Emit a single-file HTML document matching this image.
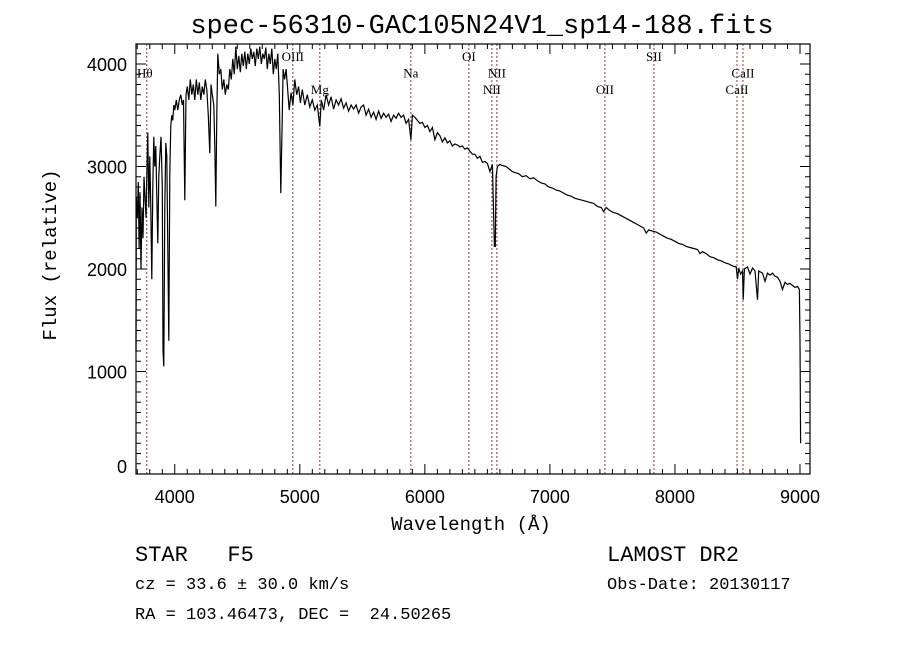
<!DOCTYPE html>
<html><head><meta charset="utf-8"><style>
body{margin:0;background:#fff;}
svg{display:block;}
text{white-space:pre;}
.mono{font-family:"Liberation Mono",monospace;}
.sans{font-family:"Liberation Sans",sans-serif;}
.ser{font-family:"Liberation Serif",serif;font-size:13px;}
</style></head><body>
<svg id="chart" width="900" height="649" viewBox="0 0 900 649" xml:space="preserve">
<rect width="900" height="649" fill="#fff"/>
<text x="482" y="33" text-anchor="middle" class="mono" font-size="27">spec-56310-GAC105N24V1_sp14-188.fits</text>
<g id="lines"></g>
<g id="ticks"></g>
<path id="spec" fill="none" stroke="#000" stroke-width="1.2"/>
<rect x="136" y="44" width="674" height="430" fill="none" stroke="#000" stroke-width="1.2"/>
<text x="471" y="530" text-anchor="middle" class="mono" font-size="19">Wavelength (Å)</text>
<text transform="translate(56,255) rotate(-90)" text-anchor="middle" class="mono" font-size="19">Flux (relative)</text>
<text x="135" y="561" class="mono" font-size="22">STAR   F5</text>
<text x="135" y="589" class="mono" font-size="17">cz = 33.6 ± 30.0 km/s</text>
<text x="135" y="619" class="mono" font-size="17">RA = 103.46473, DEC =  24.50265</text>
<text x="607" y="561" class="mono" font-size="22">LAMOST DR2</text>
<text x="607" y="589" class="mono" font-size="17">Obs-Date: 20130117</text>
</svg>
<script>
const wave=[3690,3692,3700,3708,3715,3722,3730,3738,3746,3754,3762,3770,3778,3784,3792,3800,3808,3816,3824,3832,3840,3848,3856,3864,3872,3880,3890,3900,3906,3912,3920,3928,3936,3944,3952,3960,3968,3976,3984,3992,4000,4012,4024,4036,4048,4060,4070,4080,4090,4100,4112,4124,4136,4148,4160,4172,4184,4196,4208,4220,4232,4244,4256,4268,4280,4290,4300,4312,4320,4328,4336,4344,4356,4368,4380,4392,4404,4416,4428,4440,4452,4464,4476,4488,4500,4512,4524,4536,4548,4560,4572,4584,4596,4608,4620,4632,4644,4656,4668,4680,4692,4704,4716,4728,4740,4752,4764,4776,4788,4800,4812,4824,4836,4848,4858,4866,4878,4890,4900,4915,4930,4945,4960,4975,4990,5005,5020,5040,5060,5080,5100,5120,5140,5160,5172,5190,5210,5230,5250,5270,5290,5310,5330,5350,5370,5390,5410,5430,5450,5470,5490,5510,5530,5550,5570,5590,5610,5630,5650,5670,5690,5710,5730,5750,5770,5790,5810,5830,5850,5870,5888,5900,5920,5940,5960,5980,6000,6020,6040,6060,6080,6100,6120,6140,6160,6180,6200,6220,6240,6260,6280,6300,6320,6340,6360,6380,6400,6420,6440,6460,6480,6500,6520,6540,6556,6563,6570,6580,6600,6620,6650,6680,6700,6720,6750,6780,6810,6840,6870,6900,6930,6960,6990,7020,7050,7080,7110,7140,7170,7200,7230,7260,7290,7320,7350,7380,7410,7430,7450,7480,7510,7540,7570,7600,7630,7660,7690,7720,7750,7770,7790,7820,7850,7880,7910,7940,7970,8000,8030,8060,8090,8120,8150,8180,8200,8220,8250,8280,8310,8340,8370,8400,8430,8460,8490,8500,8510,8525,8540,8546,8555,8580,8600,8620,8640,8660,8670,8700,8720,8740,8760,8780,8800,8820,8840,8860,8880,8900,8920,8940,8960,8980,8995,9000,9005];
const flux=[1200,2700,2500,2850,2200,2750,2000,2600,2300,2900,2700,2500,3000,3330,2600,3100,2600,1900,2800,3290,3000,3200,2700,2250,2900,3100,3290,2800,1200,1050,2600,3230,3100,2200,1300,2930,3400,3500,3450,3600,3550,3650,3550,3650,3700,3600,3650,2670,3700,3780,3650,3850,3700,3800,3650,3850,3700,3820,3650,3780,3700,3850,3750,3500,3130,3800,3700,3600,3200,2610,3500,4100,3900,3950,3750,3850,3700,3800,3750,3950,3850,4050,3900,4170,3950,4080,3920,4100,3980,4120,3950,4100,4000,4150,4050,4120,3980,4150,4050,4170,4000,4100,4050,4160,3950,4100,4000,4150,3900,4050,3950,4100,3700,2740,3400,3950,3850,3950,3800,3550,3720,3600,3850,3700,3780,3620,3750,3600,3700,3580,3650,3550,3600,3390,3650,3550,3700,3600,3680,3560,3650,3600,3660,3570,3620,3540,3600,3560,3600,3520,3580,3600,3500,3560,3480,3530,3460,3540,3470,3520,3480,3510,3440,3500,3470,3520,3480,3500,3420,3460,3260,3500,3480,3450,3420,3430,3380,3400,3340,3380,3260,3330,3300,3240,3280,3230,3250,3200,3220,3210,3190,3200,3170,3180,3150,3120,3120,3080,3100,3040,3050,3030,2950,3020,2220,2220,2900,3000,3020,3010,3000,2970,2950,2940,2930,2900,2910,2880,2890,2860,2840,2830,2800,2790,2770,2760,2740,2720,2710,2690,2680,2670,2660,2650,2640,2610,2600,2560,2600,2570,2550,2540,2520,2500,2480,2460,2440,2420,2400,2350,2380,2370,2360,2340,2320,2300,2290,2270,2250,2240,2220,2210,2200,2190,2150,2170,2150,2120,2110,2090,2080,2060,2050,2030,2020,1900,2010,1950,1980,1700,2000,2020,1950,2010,1980,1700,1980,1960,1880,1960,1940,1960,1930,1920,1880,1800,1870,1850,1860,1840,1820,1830,1800,1300,300];
const xTicks=[4000,5000,6000,7000,8000,9000];
const yTicks=[0,1000,2000,3000,4000];
const lineNames=["Hθ","OIII","Mg","Na","OI","NII","NII","OII","SII","CaII","CaII"];
const lineWaves=[3776,4944,5160,5888,6352,6536,6576,7440,7832,8496,8544];
const lineRows=[1,0,2,1,0,2,1,2,0,2,1];

const X0=136,X1=810,Y0=44,Y1=474;
const xmin=3690,xmax=9080,ymin=0,ymax=4195;
const sx=w=>X0+(w-xmin)/(xmax-xmin)*(X1-X0);
const sy=f=>Y1-(f-ymin)/(ymax-ymin)*(Y1-Y0);
const NS="http://www.w3.org/2000/svg";
const svg=document.getElementById('chart');
let d="";
const n=Math.min(wave.length,flux.length);
for(let i=0;i<n;i++){
  const x=Math.min(Math.max(sx(wave[i]),X0),X1),y=Math.min(Math.max(sy(flux[i]),Y0),Y1);
  d+=(i?"L":"M")+x.toFixed(1)+","+y.toFixed(1);
}
document.getElementById('spec').setAttribute('d',d);

const tg=document.getElementById('ticks');
function ln(g,x1,y1,x2,y2){const l=document.createElementNS(NS,'line');l.setAttribute('x1',x1);l.setAttribute('y1',y1);l.setAttribute('x2',x2);l.setAttribute('y2',y2);l.setAttribute('stroke','#000');l.setAttribute('stroke-width','1');g.appendChild(l);return l;}
for(let w=3700;w<=9080;w+=100){
  const x=sx(w);const maj=w%1000===0;const L=maj?10:5;
  ln(tg,x,Y1,x,Y1-L);ln(tg,x,Y0,x,Y0+L);
}
for(let f=0;f<=4195;f+=100){
  const y=sy(f);const maj=f%1000===0;const L=maj?10:5;
  ln(tg,X0,y,X0+L,y);ln(tg,X1,y,X1-L,y);
}
xTicks.forEach(v=>{
  const t=document.createElementNS(NS,'text');
  
  
  t.setAttribute('x',sx(v));t.setAttribute('y',Y1+29);t.setAttribute('text-anchor','middle');
  t.setAttribute('class','sans');t.setAttribute('font-size','18');t.textContent=v;svg.appendChild(t);
});
yTicks.forEach(v=>{
  const t=document.createElementNS(NS,'text');
  
  
  t.setAttribute('x',127);t.setAttribute('y',Math.min(sy(v)+7,Y1-1));t.setAttribute('text-anchor','end');
  t.setAttribute('class','sans');t.setAttribute('font-size','18');t.textContent=v;svg.appendChild(t);
});
const lg=document.getElementById('lines');
lineWaves.forEach((w,i)=>{
  const x=sx(w);
  const l=ln(lg,x,Y0,x,Y1);
  
  
  l.setAttribute('stroke','#8b3a3a');l.setAttribute('stroke-dasharray','2,2');
  const t=document.createElementNS(NS,'text');
  
  
  t.setAttribute('x',i===0?x-2:x);t.setAttribute('y',61+lineRows[i]*16.5);t.setAttribute('text-anchor','middle');
  t.setAttribute('class','ser');t.textContent=lineNames[i];lg.appendChild(t);
});
</script>
</body></html>
